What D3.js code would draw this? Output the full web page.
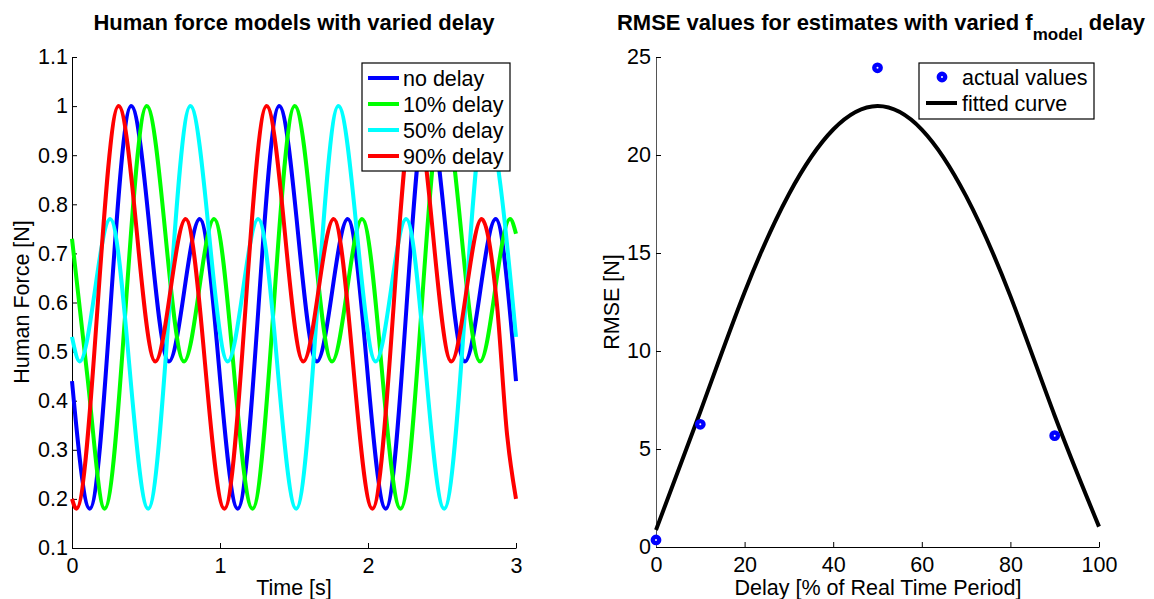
<!DOCTYPE html>
<html>
<head>
<meta charset="utf-8">
<script src="https://cdnjs.cloudflare.com/ajax/libs/d3/7.8.5/d3.min.js"></script>
<style>
  body { margin: 0; background: #fff; }
  svg { font-family: "Liberation Sans", Arial, sans-serif; }
</style>
</head>
<body>
<div id="vis"></div>
<script>
// ---- data ----

// left panel: [time s, force N], turning points of each curve
const NO_DELAY = [[0, 0.44], [0.12, 0.18], [0.40, 1.00], [0.655, 0.48], [0.863, 0.77],
  [1.12, 0.18], [1.40, 1.00], [1.655, 0.48], [1.863, 0.77],
  [2.12, 0.18], [2.40, 1.00], [2.655, 0.48], [2.863, 0.77], [3.0, 0.44]];
const DELAY_10 = [[0, 0.73], [0.10, 0.46], [0.22, 0.18], [0.505, 1.00], [0.757, 0.48], [0.96, 0.77],
  [1.22, 0.18], [1.505, 1.00], [1.757, 0.48], [1.96, 0.77],
  [2.22, 0.18], [2.505, 1.00], [2.757, 0.48], [2.96, 0.77], [3.0, 0.74]];
const DELAY_50 = [[0, 0.53], [0.052, 0.48], [0.258, 0.77], [0.515, 0.18], [0.80, 1.00],
  [1.052, 0.48], [1.258, 0.77], [1.515, 0.18], [1.80, 1.00],
  [2.052, 0.48], [2.258, 0.77], [2.515, 0.18], [2.80, 1.00], [2.89, 0.85], [3.0, 0.53]];
const DELAY_90 = [[0, 0.20], [0.03, 0.18], [0.315, 1.00], [0.563, 0.48], [0.768, 0.77],
  [1.03, 0.18], [1.315, 1.00], [1.563, 0.48], [1.768, 0.77],
  [2.03, 0.18], [2.315, 1.00], [2.563, 0.48], [2.768, 0.77], [2.87, 0.60], [2.94, 0.33], [3.0, 0.20]];
const SERIES_NAMES = ["no delay", "10% delay", "50% delay", "90% delay"];

const TIME_TICKS = [0, 1, 2, 3];
const FORCE_TICKS = [0.1, 0.2, 0.3, 0.4, 0.5, 0.6, 0.7, 0.8, 0.9, 1, 1.1];

// right panel
const DELAY_PTS = [0, 10, 50, 90];
const RMSE_PTS = [0.36, 6.26, 24.45, 5.68];
const FIT_DELAY = [0, 10, 20, 30, 40, 50, 60, 70, 80, 90, 100];
const FIT_RMSE = [0.87, 6.9, 13.0, 18.0, 21.3, 22.5, 21.3, 17.9, 12.8, 6.7, 1.04];

const DELAY_TICKS = [0, 20, 40, 60, 80, 100];
const RMSE_TICKS = [0, 5, 10, 15, 20, 25];

// ---- frame ----
const FRAME_WIDTH = 1154;
const FRAME_HEIGHT = 599;
const FONT = 21.5;
const COLORS = ["#0000ff", "#00ff00", "#00ffff", "#ff0000"];

const FRAME = d3.select("#vis")
  .append("svg")
    .attr("width", FRAME_WIDTH)
    .attr("height", FRAME_HEIGHT);

// scales
const X_LEFT = d3.scaleLinear().domain([0, 3]).range([72, 516]);
const Y_LEFT = d3.scaleLinear().domain([0.1, 1.1]).range([548, 57]);
const X_RIGHT = d3.scaleLinear().domain([0, 100]).range([656, 1099]);
const Y_RIGHT = d3.scaleLinear().domain([0, 25]).range([547, 57]);

// matlab-like axes: inward ticks, no box
function drawAxes(xs, ys, xt, yt, yPad, yColor) {
  const fmt = d3.format("~g");
  const gx = FRAME.append("g")
    .attr("transform", "translate(0," + ys.range()[0] + ")")
    .call(d3.axisBottom(xs).tickValues(xt).tickFormat(fmt)
      .tickSizeInner(-5).tickSizeOuter(0).tickPadding(10));
  const gy = FRAME.append("g")
    .attr("transform", "translate(" + xs.range()[0] + ",0)")
    .call(d3.axisLeft(ys).tickValues(yt).tickFormat(fmt)
      .tickSizeInner(-5).tickSizeOuter(0).tickPadding(yPad));
  [gx, gy].forEach(g => {
    g.attr("font-size", FONT + "px").attr("font-family", null);
    g.selectAll("text").attr("fill", "#000");
    g.selectAll("line").attr("stroke", "#000");
  });
  gx.select(".domain").attr("stroke", "#000");
  gy.select(".domain").attr("stroke", yColor);
}

drawAxes(X_LEFT, Y_LEFT, TIME_TICKS, FORCE_TICKS, 4, "#000");
drawAxes(X_RIGHT, Y_RIGHT, DELAY_TICKS, RMSE_TICKS, 5, "#555");

// ---- left panel curves ----
const forceLine = d3.line()
  .x(d => X_LEFT(d[0]))
  .y(d => Y_LEFT(d[1]))
  .curve(d3.curveMonotoneX);

[NO_DELAY, DELAY_10, DELAY_50, DELAY_90].forEach((s, i) => {
  FRAME.append("path")
    .attr("d", forceLine(s))
    .attr("fill", "none")
    .attr("stroke", COLORS[i])
    .attr("stroke-width", 4);
});

// left legend
const LEG_L = FRAME.append("g");
LEG_L.append("rect")
  .attr("x", 362).attr("y", 63).attr("width", 148).attr("height", 108)
  .attr("fill", "#fff").attr("stroke", "#000").attr("stroke-width", 1.2);
SERIES_NAMES.forEach((name, i) => {
  const y = 78 + i * 26;
  LEG_L.append("line")
    .attr("x1", 368).attr("x2", 399).attr("y1", y).attr("y2", y)
    .attr("stroke", COLORS[i]).attr("stroke-width", 4);
  LEG_L.append("text")
    .attr("x", 403).attr("y", y + 7.5)
    .attr("font-size", FONT + "px")
    .text(name);
});

// ---- right panel ----
const fitLine = d3.line()
  .x((d, i) => X_RIGHT(FIT_DELAY[i]))
  .y(d => Y_RIGHT(d))
  .curve(d3.curveNatural);

FRAME.append("path")
  .attr("d", fitLine(FIT_RMSE))
  .attr("fill", "none")
  .attr("stroke", "#000")
  .attr("stroke-width", 4);

FRAME.selectAll(".pt")
  .data(DELAY_PTS)
  .enter()
  .append("circle")
    .attr("cx", d => X_RIGHT(d))
    .attr("cy", (d, i) => Y_RIGHT(RMSE_PTS[i]))
    .attr("r", 3.2)
    .attr("fill", "#fff")
    .attr("stroke", "#0000ff")
    .attr("stroke-width", 4.4);

// right legend
const LEG_R = FRAME.append("g");
LEG_R.append("rect")
  .attr("x", 919).attr("y", 63).attr("width", 175).attr("height", 56)
  .attr("fill", "#fff").attr("stroke", "#000").attr("stroke-width", 1.2);
LEG_R.append("circle")
  .attr("cx", 942).attr("cy", 77).attr("r", 3.2)
  .attr("fill", "#fff").attr("stroke", "#0000ff").attr("stroke-width", 4.4);
LEG_R.append("text").attr("x", 962).attr("y", 84.5)
  .attr("font-size", FONT + "px").text("actual values");
LEG_R.append("line")
  .attr("x1", 926).attr("x2", 957).attr("y1", 103).attr("y2", 103)
  .attr("stroke", "#000").attr("stroke-width", 4);
LEG_R.append("text").attr("x", 962).attr("y", 110.5)
  .attr("font-size", FONT + "px").text("fitted curve");

// ---- titles and axis labels ----
FRAME.append("text")
  .attr("x", 294).attr("y", 30)
  .attr("text-anchor", "middle")
  .attr("font-size", "22px").attr("font-weight", "bold")
  .text("Human force models with varied delay");

const T2 = FRAME.append("text")
  .attr("x", 881).attr("y", 30)
  .attr("text-anchor", "middle")
  .attr("font-size", "22px").attr("font-weight", "bold");
T2.append("tspan").text("RMSE values for estimates with varied f");
T2.append("tspan").attr("dy", 10).attr("font-size", "17px").text("model");
T2.append("tspan").attr("dy", -10).text(" delay");

FRAME.append("text")
  .attr("x", 294).attr("y", 594.5)
  .attr("text-anchor", "middle").attr("font-size", FONT + "px")
  .text("Time [s]");
FRAME.append("text")
  .attr("x", 878).attr("y", 594.5)
  .attr("text-anchor", "middle").attr("font-size", FONT + "px")
  .text("Delay [% of Real Time Period]");

FRAME.append("text")
  .attr("transform", "translate(29,302) rotate(-90)")
  .attr("text-anchor", "middle").attr("font-size", FONT + "px")
  .text("Human Force [N]");
FRAME.append("text")
  .attr("transform", "translate(619,302) rotate(-90)")
  .attr("text-anchor", "middle").attr("font-size", FONT + "px")
  .text("RMSE [N]");
</script>
</body>
</html>
